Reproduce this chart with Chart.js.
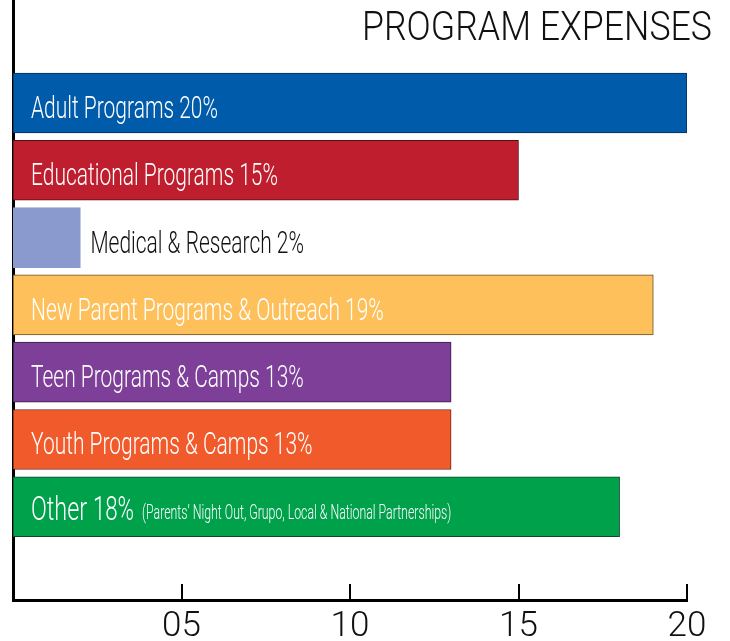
<!DOCTYPE html>
<html>
<head>
<meta charset="utf-8">
<script src="https://cdn.jsdelivr.net/npm/chart.js@4.4.1/dist/chart.umd.min.js"></script>
<style>
  html, body { margin: 0; padding: 0; background: #fff; }
  #wrap { width: 730px; height: 641px; }
</style>
</head>
<body>
<div id="wrap"><canvas id="myChart"></canvas></div>
<script>
const categories = [
    'Adult Programs',
    'Educational Programs',
    'Medical & Research',
    'New Parent Programs & Outreach',
    'Teen Programs & Camps',
    'Youth Programs & Camps',
    'Other'
];
const percents = [20, 15, 2, 19, 13, 13, 18];
const notes = ['', '', '', '', '', '', "(Parents\u2019 Night Out, Grupo, Local & National Partnerships)"];
const barColors = ['#005BAA', '#BE1E2D', '#8A9ACF', '#FDC05A', '#7E3F98', '#F15A2B', '#00A14B'];
const edgeColors = ['#0a2a55', '#5a0e15', '#8A9ACF', '#6b5020', '#3a1d47', '#6b2813', '#0b4a25'];
const textColors = ['#fff', '#fff', '#111', '#fff', '#fff', '#fff', '#fff'];
const tickLabels = { 5: '05', 10: '10', 15: '15', 20: '20' };
const title = 'PROGRAM EXPENSES';

const FONT = 'Roboto, "DejaVu Sans Condensed", sans-serif';

const ctx = document.getElementById('myChart').getContext('2d');

let barData = [];
for (let i = 0; i < percents.length; i++) {
    barData.push({ x: percents[i], y: i + 1 });
}

// draw text squeezed horizontally to look like a condensed face
function squeezed(c, text, x, y, font, squeeze) {
    c.save();
    c.font = font;
    c.translate(x, y);
    c.scale(squeeze, 1);
    c.fillText(text, 0, 0);
    const w = c.measureText(text).width * squeeze;
    c.restore();
    return w;
}

const extras = {
    id: 'extras',
    afterDatasetsDraw(chart) {
        const c = chart.ctx;
        const meta = chart.getDatasetMeta(0);
        c.save();
        c.textBaseline = 'alphabetic';
        c.textAlign = 'left';
        c.font = '300 32px ' + FONT;
        const sq = 187 / c.measureText('Adult Programs 20%').width;
        meta.data.forEach((bar, i) => {
            let x = bar.base + 18;
            if (percents[i] < 5) x = bar.x + 10;
            c.fillStyle = textColors[i];
            if (notes[i]) {
                const w1 = squeezed(c, categories[i] + ' ', x, bar.y + 13, '300 34px ' + FONT, sq * 1.05);
                const w2 = squeezed(c, percents[i] + '%', x + w1, bar.y + 13, '300 34px ' + FONT, sq * 1.0);
                squeezed(c, notes[i], x + w1 + w2 + 8, bar.y + 12, '300 20px ' + FONT, sq * 0.94);
            } else {
                squeezed(c, categories[i] + ' ' + percents[i] + '%', x, bar.y + 15, '300 32px ' + FONT, sq);
            }
        });
        // tick marks pointing up into the plot
        const xs = chart.scales.x;
        c.strokeStyle = '#000';
        c.lineWidth = 2;
        [5, 10, 15, 20].forEach(v => {
            const px = Math.round(xs.getPixelForValue(v));
            c.beginPath();
            c.moveTo(px, chart.chartArea.bottom);
            c.lineTo(px, chart.chartArea.bottom - 16);
            c.stroke();
        });
        // title
        c.fillStyle = '#111';
        c.font = '300 40px ' + FONT;
        const tw = c.measureText(title).width;
        squeezed(c, title, 712 - 350, 40, '300 40px ' + FONT, 350 / tw);
        c.restore();
    }
};

const config = {
    type: 'bar',
    data: {
        datasets: [
            {
                data: barData,
                backgroundColor: barColors,
                borderColor: edgeColors,
                borderWidth: 1,
                borderSkipped: false,
                barThickness: 60,
            }
        ]
    },
    options: {
        indexAxis: 'y',
        responsive: true,
        maintainAspectRatio: false,
        animation: false,
        layout: {
            padding: { left: 13, right: 43, top: 0, bottom: 0 }
        },
        plugins: {
            legend: { display: false },
            tooltip: { enabled: false },
        },
        scales: {
            x: {
                type: 'linear',
                min: 0,
                max: 20,
                grid: { display: false, drawTicks: false },
                border: { display: true, color: '#000', width: 3 },
                afterFit: s => { s.height = 41; },
                ticks: {
                    stepSize: 5,
                    padding: 6,
                    color: '#111',
                    font: { family: FONT, size: 35, weight: 300 },
                    callback: v => tickLabels[v] || '',
                },
            },
            y: {
                type: 'linear',
                reverse: true,
                offset: false,
                min: -0.53,
                max: 8.385,
                grid: { display: false, drawTicks: false },
                border: { display: true, color: '#000', width: 3 },
                ticks: { display: false },
                afterFit: s => { s.width = 0; },
            }
        }
    },
    plugins: [extras]
};

const myChart = new Chart(ctx, config);
</script>
</body>
</html>
